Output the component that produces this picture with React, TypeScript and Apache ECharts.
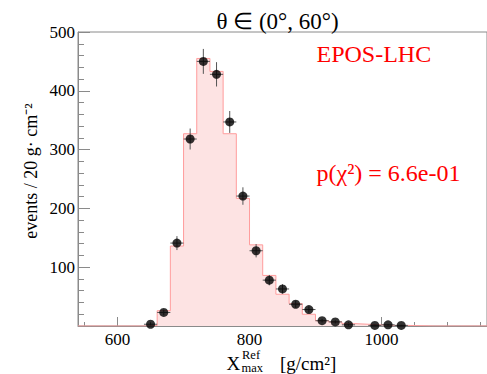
import React, { useEffect, useRef } from "react";
import * as echarts from "echarts";

// Histogram bins (lower edges, g/cm^2), width 20
const binStarts = [
  540, 560, 580, 600, 620, 640, 660, 680, 700, 720, 740, 760, 780, 800, 820, 840,
  860, 880, 900, 920, 940, 960, 980, 1000, 1020, 1040, 1060, 1080, 1100, 1120, 1140,
];
const binWidth = 20;
// EPOS-LHC simulation (filled histogram)
const mcCounts = [
  0, 0, 0, 0, 0, 1, 26, 136, 327, 455, 433, 327, 217, 138, 86, 54,
  38, 20, 9, 7, 4, 3, 2, 1, 1, 0.5, 0, 0, 0, 0, 0,
];
// Measured events (points); null = empty bin, not drawn
const dataCounts: (number | null)[] = [
  null, null, null, null, null, 3, 23, 141, 318, 450, 428, 347, 221, 128, 78, 63,
  37, 28, 9, 7, 2, null, 1, 2, 1, null, null, null, null, null, null,
];
const xLabelTicks = [600, 800, 1000];
const xMinorTicks = [550, 600, 650, 700, 750, 800, 850, 900, 950, 1000, 1050, 1100, 1150];
const yLabelTicks = [100, 200, 300, 400, 500];

const FONT = "Liberation Serif";
const AXIS_GRAY = "#8a8a8a";

export default function App() {
  const ref = useRef<HTMLDivElement>(null);
  useEffect(() => {
    if (!ref.current) return;
    const chart = echarts.init(ref.current, null, { renderer: "svg" });
    const last = binStarts.length - 1;
    const stepData = binStarts.map((s, i) => [s, mcCounts[i]]);
    stepData.push([binStarts[last] + binWidth, mcCounts[last]]);
    const points: number[][] = [];
    binStarts.forEach((s, i) => {
      const v = dataCounts[i];
      if (v !== null) points.push([s + binWidth / 2, v]);
    });
    const txt = (size: number) => `${size}px "Liberation Serif", serif`;

    chart.setOption({
      animation: false,
      backgroundColor: "#ffffff",
      grid: {
        left: 78,
        top: 32,
        width: 409,
        height: 294,
        show: true,
        borderColor: AXIS_GRAY,
        borderWidth: 1,
        backgroundColor: "transparent",
      },
      xAxis: [
        {
          type: "value",
          min: 540,
          max: 1160,
          position: "bottom",
          axisLine: { show: true, onZero: false, lineStyle: { color: AXIS_GRAY, width: 1 } },
          axisTick: { show: true, inside: true, length: 9, customValues: xLabelTicks, lineStyle: { color: AXIS_GRAY } },
          axisLabel: {
            show: true,
            customValues: xLabelTicks,
            formatter: (v: number) => String(v),
            color: "#000",
            fontFamily: FONT,
            fontSize: 17,
            margin: 5,
          },
          splitLine: { show: false },
        },
        {
          type: "value",
          min: 540,
          max: 1160,
          position: "bottom",
          axisLine: { show: false, onZero: false },
          axisTick: { show: true, inside: true, length: 4, customValues: xMinorTicks, lineStyle: { color: AXIS_GRAY } },
          axisLabel: { show: false },
          splitLine: { show: false },
        },
      ],
      yAxis: [
        {
          type: "value",
          min: 0,
          max: 500,
          interval: 100,
          position: "left",
          axisLine: { show: true, onZero: false, lineStyle: { color: AXIS_GRAY, width: 1 } },
          axisTick: { show: true, inside: true, length: 12, lineStyle: { color: AXIS_GRAY } },
          axisLabel: {
            show: true,
            customValues: yLabelTicks,
            formatter: (v: number) => String(v),
            color: "#000",
            fontFamily: FONT,
            fontSize: 17,
            margin: 3,
          },
          splitLine: { show: false },
        },
        {
          type: "value",
          min: 0,
          max: 500,
          interval: 20,
          position: "left",
          axisLine: { show: false, onZero: false },
          axisTick: { show: true, inside: true, length: 6, lineStyle: { color: AXIS_GRAY } },
          axisLabel: { show: false },
          splitLine: { show: false },
        },
      ],
      series: [
        {
          type: "line",
          xAxisIndex: 0,
          yAxisIndex: 0,
          step: "end",
          data: stepData,
          symbol: "none",
          lineStyle: { color: "#ff9c9c", width: 1 },
          areaStyle: { color: "#fde3e3", opacity: 1 },
          z: 1,
        },
        {
          type: "custom",
          xAxisIndex: 0,
          yAxisIndex: 0,
          data: points,
          z: 3,
          renderItem: (params: any, api: any) => {
            const x = api.value(0);
            const y = api.value(1);
            const e = Math.sqrt(y);
            const c = api.coord([x, y]);
            const t = api.coord([x, y + e]);
            const b = api.coord([x, Math.max(0, y - e)]);
            const l = api.coord([x - binWidth / 2, y]);
            const r = api.coord([x + binWidth / 2, y]);
            const st = { stroke: "#555", lineWidth: 1 };
            return {
              type: "group",
              children: [
                { type: "line", shape: { x1: c[0], y1: t[1], x2: c[0], y2: b[1] }, style: st },
                { type: "line", shape: { x1: l[0], y1: c[1], x2: r[0], y2: c[1] }, style: st },
              ],
            };
          },
        },
        {
          type: "scatter",
          xAxisIndex: 0,
          yAxisIndex: 0,
          data: points,
          symbol: "circle",
          symbolSize: 9,
          itemStyle: { color: "#000" },
          z: 4,
        },
      ],
      graphic: [
        {
          type: "text",
          x: 277.5,
          y: 21.5,
          style: { text: "θ ∈ (0°, 60°)", font: txt(23), fill: "#000", align: "center", verticalAlign: "middle" },
        },
        {
          type: "text",
          x: 316.5,
          y: 54,
          style: { text: "EPOS-LHC", font: txt(24), fill: "#ff0000", align: "left", verticalAlign: "middle" },
        },
        {
          type: "text",
          x: 316.5,
          y: 173,
          style: { text: "p(χ²) = 6.6e-01", font: txt(24), fill: "#ff0000", align: "left", verticalAlign: "middle" },
        },
        {
          type: "text",
          x: 31,
          y: 171,
          rotation: Math.PI / 2,
          style: { text: "events / 20 g· cm⁻²", font: txt(18), fill: "#000", align: "center", verticalAlign: "middle" },
        },
        {
          type: "text",
          x: 226.5,
          y: 363,
          style: { text: "X", font: txt(19), fill: "#000", align: "left", verticalAlign: "middle" },
        },
        {
          type: "text",
          x: 242,
          y: 354.5,
          style: { text: "Ref", font: txt(12.5), fill: "#000", align: "left", verticalAlign: "middle" },
        },
        {
          type: "text",
          x: 241.5,
          y: 367.5,
          style: { text: "max", font: txt(12.5), fill: "#000", align: "left", verticalAlign: "middle" },
        },
        {
          type: "text",
          x: 280,
          y: 363,
          style: { text: "[g/cm²]", font: txt(19), fill: "#000", align: "left", verticalAlign: "middle" },
        },
      ],
    });
    return () => chart.dispose();
  }, []);
  return (
    <div
      ref={ref}
      style={{ position: "fixed", left: 0, top: 0, width: 487, height: 374, background: "#fff" }}
    />
  );
}
